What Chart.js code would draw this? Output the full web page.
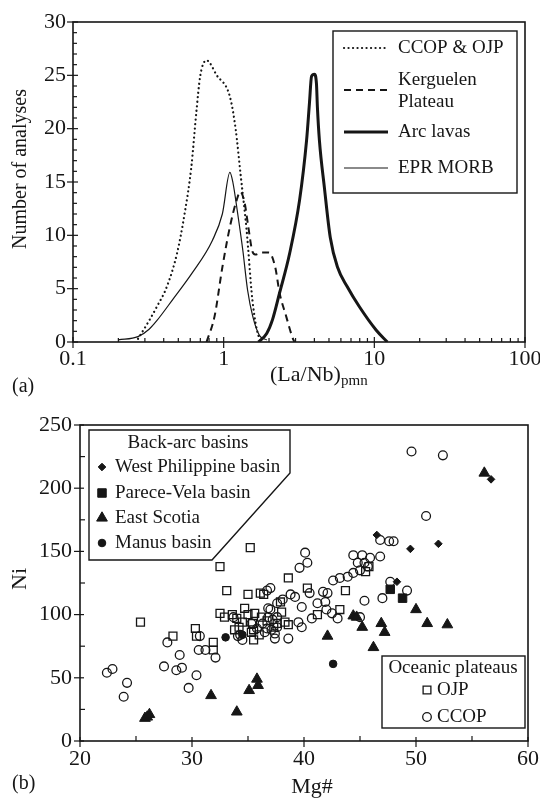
<!DOCTYPE html>
<html>
<head>
<meta charset="utf-8">
<script src="https://cdn.jsdelivr.net/npm/chart.js@4.4.0/dist/chart.umd.min.js"></script>
<style>
  html, body { margin: 0; padding: 0; background: #fff; }
  #wrap { position: relative; width: 540px; height: 800px; }
  canvas { position: absolute; left: 0; }
  #chart-a { top: 0; }
  #chart-b { top: 400px; }
</style>
</head>
<body>
<div id="wrap">
  <canvas id="chart-a" width="540" height="400"></canvas>
  <canvas id="chart-b" width="540" height="400"></canvas>
</div>
<script>
// ---- (a) (La/Nb)pmn distributions ----
const ratioTicks = [0.1, 1, 10, 100];
const countTicks = [0, 5, 10, 15, 20, 25, 30];

const ccopX = [0.27, 0.32, 0.36, 0.42, 0.49, 0.55, 0.61, 0.66, 0.70, 0.77, 0.90, 1.10, 1.20, 1.30, 1.42, 1.55, 1.70, 1.85];
const ccopY = [0.3, 2, 3.3, 5.2, 8.3, 12, 16.4, 21.7, 25, 26.4, 25, 23, 20, 15.5, 10.5, 4, 0.6, 0];

const kergX = [0.77, 0.87, 0.98, 1.10, 1.22, 1.29, 1.38, 1.45, 1.55, 1.62, 1.80, 2.00, 2.20, 2.35, 2.60, 2.85, 2.95];
const kergY = [0, 2.4, 7, 10.8, 13.3, 14.1, 13, 11, 8.5, 8.2, 8.4, 8.4, 7, 4.6, 2.4, 0.5, 0];

const arcX = [1.70, 1.93, 2.11, 2.35, 2.74, 3.19, 3.55, 3.71, 3.83, 4.00, 4.13, 4.19, 4.32, 4.66, 5.10, 5.70, 6.60, 7.96, 10.3, 12.2];
const arcY = [0, 0.8, 2.1, 4.6, 8.3, 13.3, 18.9, 22.4, 24.9, 25.1, 24.2, 22, 18.9, 14.5, 9.8, 7.0, 5.2, 3.3, 1.1, 0];

const eprX = [0.20, 0.27, 0.32, 0.36, 0.46, 0.62, 0.84, 0.98, 1.10, 1.15, 1.24, 1.34, 1.44, 1.56, 1.73, 1.93];
const eprY = [0.2, 0.5, 1.2, 2, 4, 6.5, 9.5, 12, 15.9, 15, 12, 8.6, 4.9, 2.4, 0.6, 0.2];

// ---- (b) Ni vs Mg# ----
const mgTicks = [20, 30, 40, 50, 60];
const niTicks = [0, 50, 100, 150, 200, 250];

const ojpMg = [25.4, 28.3, 30.3, 30.4, 31.9, 31.9, 32.5, 33.1, 32.5, 32.9, 33.6, 34.0, 33.8, 34.2, 34.5, 34.7, 35.0, 35.0, 35.2, 35.6, 35.4, 35.3, 35.5, 35.5, 36.0, 36.1, 36.4, 36.2, 36.7, 37.3, 37.6, 38.0, 37.9, 38.3, 38.6, 38.6, 40.3, 41.2, 43.2, 43.7, 45.5, 45.8];
const ojpNi = [94, 83, 89, 83, 72, 78, 138, 119, 101, 98, 100, 97, 88, 90, 94, 105, 100, 116, 153, 101, 93, 86, 80, 88, 84, 117, 116, 98, 95, 90, 93, 102, 110, 94, 92, 129, 121, 100, 104, 119, 134, 138];

const ccopMg = [22.4, 22.9, 24.2, 23.9, 27.5, 27.8, 28.6, 28.9, 29.1, 29.7, 30.4, 30.7, 30.6, 31.2, 32.1, 33.7, 34.1, 34.5, 34.3, 35.3, 35.8, 36.3, 36.5, 36.7, 36.8, 36.8, 36.7, 37.0, 37.0, 37.1, 37.2, 37.4, 37.4, 37.6, 37.6, 37.6, 38.1, 38.6, 38.8, 39.2, 39.5, 39.6, 39.8, 39.8, 40.1, 40.3, 40.5, 40.7, 41.2, 41.7, 41.9, 42.0, 42.1, 42.5, 42.6, 43.0, 43.2, 43.9, 44.4, 44.4, 44.8, 45.0, 45.0, 45.2, 45.4, 45.4, 45.7, 45.9, 46.8, 46.8, 47.0, 47.6, 48.0, 47.7, 49.2, 50.9, 49.6, 52.4];
const ccopNi = [54, 57, 46, 35, 59, 78, 56, 68, 58, 42, 52, 83, 72, 72, 66, 98, 83, 80, 84, 93, 89, 93, 86, 89, 98, 105, 119, 104, 121, 88, 96, 81, 85, 90, 98, 109, 112, 81, 116, 114, 94, 137, 90, 106, 149, 141, 117, 97, 109, 118, 110, 104, 117, 101, 127, 97, 129, 130, 133, 147, 141, 98, 135, 147, 111, 141, 138, 145, 146, 159, 113, 158, 158, 126, 119, 178, 229, 226];

const wphMg = [46.5, 49.5, 52.0, 48.3, 56.7];
const wphNi = [163, 152, 156, 126, 207];

const pvMg = [47.7, 48.8];
const pvNi = [120, 113];

const scotiaMg = [25.8, 26.0, 26.2, 31.7, 34.0, 35.1, 35.8, 35.9, 42.1, 44.4, 44.7, 45.2, 46.2, 46.9, 47.2, 50.0, 51.0, 52.8, 56.1];
const scotiaNi = [18, 19, 21, 36, 23, 40, 49, 44, 83, 99, 98, 90, 74, 93, 86, 104, 93, 92, 212];

const manusMg = [33.0, 34.5, 42.6];
const manusNi = [82, 84, 61];

// ---------------------------------------------------------------------------
const INK = '#161616';
const SERIF = '"Liberation Serif", "Times New Roman", serif';
Chart.defaults.font.family = SERIF;
Chart.defaults.color = INK;

const pts = (xs, ys) => xs.map((x, i) => ({ x, y: ys[i] }));
const asTicks = arr => s => { s.ticks = arr.map(v => ({ value: v })); };

function seg(ctx, x1, y1, x2, y2) {
  ctx.beginPath(); ctx.moveTo(x1, y1); ctx.lineTo(x2, y2); ctx.stroke();
}

// frame + inward ticks
function framePlugin(cfg) {
  return {
    id: 'frame',
    afterDatasetsDraw(chart) {
      const { ctx, chartArea: a, scales: { x, y } } = chart;
      ctx.save();
      ctx.strokeStyle = INK;
      ctx.lineWidth = 1.2;
      cfg.xMajor.forEach(v => { const p = x.getPixelForValue(v); seg(ctx, p, a.bottom + cfg.out, p, a.bottom - cfg.inn); });
      cfg.xMinor.forEach(v => { const p = x.getPixelForValue(v); seg(ctx, p, a.bottom, p, a.bottom - cfg.minor); });
      cfg.yMajor.forEach(v => { const p = y.getPixelForValue(v); seg(ctx, a.left - cfg.out, p, a.left + cfg.inn, p); });
      cfg.yMinor.forEach(v => { const p = y.getPixelForValue(v); seg(ctx, a.left, p, a.left + cfg.minor, p); });
      ctx.lineWidth = 1.6;
      ctx.strokeRect(a.left, a.top, a.right - a.left, a.bottom - a.top);
      ctx.restore();
    }
  };
}

function textPlugin(items) {
  return {
    id: 'texts',
    afterDraw(chart) {
      const ctx = chart.ctx;
      ctx.save();
      ctx.fillStyle = INK;
      ctx.textBaseline = 'alphabetic';
      items.forEach(t => {
        ctx.save();
        ctx.font = t.size + 'px ' + SERIF;
        ctx.textAlign = t.align || 'left';
        ctx.translate(t.x, t.y);
        if (t.rot) ctx.rotate(t.rot);
        ctx.fillText(t.text, 0, 0);
        ctx.restore();
      });
      ctx.restore();
    }
  };
}

// ---- chart (a) ----
const legendA = {
  id: 'legendA',
  afterDraw(chart) {
    const ctx = chart.ctx;
    ctx.save();
    ctx.fillStyle = '#fff';
    ctx.fillRect(333, 31, 184, 162);
    ctx.strokeStyle = INK; ctx.lineWidth = 1.4;
    ctx.strokeRect(333, 31, 184, 162);
    const rows = [
      { ds: 0, y: 48, lines: ['CCOP & OJP'], ty: [48] },
      { ds: 1, y: 90, lines: ['Kerguelen', 'Plateau'], ty: [80, 102] },
      { ds: 2, y: 132, lines: ['Arc lavas'], ty: [132] },
      { ds: 3, y: 168, lines: ['EPR MORB'], ty: [168] },
    ];
    ctx.font = '19px ' + SERIF;
    ctx.textBaseline = 'middle';
    rows.forEach(r => {
      const d = chart.data.datasets[r.ds];
      ctx.strokeStyle = INK;
      ctx.lineWidth = d.borderWidth;
      ctx.lineCap = d.borderCapStyle || 'butt';
      ctx.setLineDash(d.borderDash || []);
      seg(ctx, 344, r.y, 388, r.y);
      ctx.setLineDash([]);
      ctx.fillStyle = INK;
      r.lines.forEach((s, i) => ctx.fillText(s, 398, r.ty[i]));
    });
    ctx.restore();
  }
};

const lineDs = (label, xs, ys, extra) => Object.assign({
  label, data: pts(xs, ys), showLine: true, borderColor: INK, backgroundColor: INK,
  pointRadius: 0, pointHoverRadius: 0, cubicInterpolationMode: 'monotone', fill: false,
}, extra);

const oneToThirty = Array.from({ length: 31 }, (_, i) => i);

new Chart(document.getElementById('chart-a'), {
  type: 'scatter',
  data: {
    datasets: [
      lineDs('CCOP & OJP', ccopX, ccopY, { borderWidth: 2.2, borderDash: [0.1, 4.4], borderCapStyle: 'round' }),
      lineDs('Kerguelen Plateau', kergX, kergY, { borderWidth: 2, borderDash: [7, 5] }),
      lineDs('Arc lavas', arcX, arcY, { borderWidth: 3 }),
      lineDs('EPR MORB', eprX, eprY, { borderWidth: 1.2 }),
    ]
  },
  options: {
    responsive: false, animation: false, devicePixelRatio: 1,
    layout: { padding: { top: 22, right: 15, left: 0, bottom: 0 } },
    plugins: { legend: { display: false }, tooltip: { enabled: false } },
    scales: {
      x: {
        type: 'logarithmic', min: 0.1, max: 100,
        grid: { display: false, drawTicks: false }, border: { display: false },
        afterBuildTicks: asTicks(ratioTicks),
        afterFit: s => { s.height = 58; s.paddingLeft = 0; s.paddingRight = 0; },
        ticks: { color: INK, font: { size: 22, lineHeight: 1 }, padding: 6, maxRotation: 0, autoSkip: false, callback: v => String(v) },
      },
      y: {
        min: 0, max: 30,
        grid: { display: false, drawTicks: false }, border: { display: false },
        afterBuildTicks: asTicks(countTicks),
        afterFit: s => { s.width = 73; s.paddingTop = 0; s.paddingBottom = 0; },
        ticks: { color: INK, font: { size: 22, lineHeight: 1 }, padding: 7 },
      },
    },
  },
  plugins: [
    framePlugin({
      xMajor: ratioTicks, xMinor: [0.2, 0.3, 0.4, 0.5, 0.6, 0.7, 0.8, 0.9, 2, 3, 4, 5, 6, 7, 8, 9, 20, 30, 40, 50, 60, 70, 80, 90],
      yMajor: countTicks, yMinor: oneToThirty.filter(v => v % 5),
      out: 6, inn: 5, minor: 4,
    }),
    legendA,
    textPlugin([
      { text: '(a)', x: 12, y: 392, size: 20 },
      { text: '(La/Nb)', x: 270, y: 381, size: 22 },
      { text: 'pmn', x: 341, y: 385, size: 15 },
      { text: 'Number of analyses', x: 26, y: 169, size: 20, align: 'center', rot: -Math.PI / 2 },
    ]),
  ],
});

// ---- chart (b) ----
function marker(ctx, style, r, x, y, filled) {
  ctx.fillStyle = filled ? INK : '#fff';
  ctx.strokeStyle = INK;
  ctx.lineWidth = filled ? 1 : 1.3;
  Chart.helpers.drawPoint(ctx, { pointStyle: style, radius: r, rotation: 0, borderWidth: ctx.lineWidth }, x, y);
}

const legendB = {
  id: 'legendB',
  afterDraw(chart) {
    const ctx = chart.ctx;
    ctx.save();
    // back-arc box with cut corner
    ctx.beginPath();
    ctx.moveTo(89, 30); ctx.lineTo(290, 30); ctx.lineTo(290, 73); ctx.lineTo(212, 160); ctx.lineTo(89, 160); ctx.closePath();
    ctx.fillStyle = '#fff'; ctx.fill();
    ctx.strokeStyle = INK; ctx.lineWidth = 1.4; ctx.stroke();
    ctx.font = '19px ' + SERIF;
    ctx.textBaseline = 'middle';
    ctx.fillStyle = INK;
    ctx.textAlign = 'center';
    ctx.fillText('Back-arc basins', 188, 43);
    ctx.textAlign = 'left';
    const rowsB = [
      { s: 'rectRot', r: 3.8, y: 67, t: 'West Philippine basin' },
      { s: 'rect', r: 6, y: 93, t: 'Parece-Vela basin' },
      { s: 'triangle', r: 6.2, y: 118, t: 'East Scotia' },
      { s: 'circle', r: 3.8, y: 143, t: 'Manus basin' },
    ];
    rowsB.forEach(r => {
      marker(ctx, r.s, r.r, 102, r.y, true);
      ctx.fillStyle = INK;
      ctx.fillText(r.t, 115, r.y);
    });
    // oceanic plateaus box
    ctx.fillStyle = '#fff';
    ctx.fillRect(382, 256, 143, 72);
    ctx.strokeStyle = INK; ctx.lineWidth = 1.4;
    ctx.strokeRect(382, 256, 143, 72);
    ctx.fillStyle = INK;
    ctx.textAlign = 'center';
    ctx.fillText('Oceanic plateaus', 453, 268);
    ctx.textAlign = 'left';
    marker(ctx, 'rect', 5.5, 427, 290, false);
    ctx.fillStyle = INK; ctx.fillText('OJP', 437, 290);
    marker(ctx, 'circle', 4.3, 427, 317, false);
    ctx.fillStyle = INK; ctx.fillText('CCOP', 437, 317);
    ctx.restore();
  }
};

const dotDs = (label, xs, ys, style, r, filled) => ({
  label, data: pts(xs, ys), pointStyle: style, pointRadius: r, pointHoverRadius: r,
  backgroundColor: filled ? INK : 'rgba(255,255,255,0)', borderColor: INK, borderWidth: filled ? 1 : 1.3,
});

new Chart(document.getElementById('chart-b'), {
  type: 'scatter',
  data: {
    datasets: [
      dotDs('West Philippine basin', wphMg, wphNi, 'rectRot', 3.8, true),
      dotDs('Parece-Vela basin', pvMg, pvNi, 'rect', 6, true),
      dotDs('East Scotia', scotiaMg, scotiaNi, 'triangle', 6.2, true),
      dotDs('Manus basin', manusMg, manusNi, 'circle', 3.8, true),
      dotDs('OJP', ojpMg, ojpNi, 'rect', 5.6, false),
      dotDs('CCOP', ccopMg, ccopNi, 'circle', 4.4, false),
    ]
  },
  options: {
    responsive: false, animation: false, devicePixelRatio: 1,
    layout: { padding: { top: 25, right: 12, left: 0, bottom: 0 } },
    plugins: { legend: { display: false }, tooltip: { enabled: false } },
    scales: {
      x: {
        min: 20, max: 60,
        grid: { display: false, drawTicks: false }, border: { display: false },
        afterBuildTicks: asTicks(mgTicks),
        afterFit: s => { s.height = 59; s.paddingLeft = 0; s.paddingRight = 0; },
        ticks: { color: INK, font: { size: 22, lineHeight: 1 }, padding: 7, maxRotation: 0, autoSkip: false },
      },
      y: {
        min: 0, max: 250,
        grid: { display: false, drawTicks: false }, border: { display: false },
        afterBuildTicks: asTicks(niTicks),
        afterFit: s => { s.width = 80; s.paddingTop = 0; s.paddingBottom = 0; },
        ticks: { color: INK, font: { size: 22, lineHeight: 1 }, padding: 8 },
      },
    },
  },
  plugins: [
    framePlugin({
      xMajor: mgTicks, xMinor: [25, 35, 45, 55],
      yMajor: niTicks, yMinor: [25, 75, 125, 175, 225],
      out: 6, inn: 4, minor: 5,
    }),
    legendB,
    textPlugin([
      { text: '(b)', x: 12, y: 389, size: 20 },
      { text: 'Mg#', x: 312, y: 393, size: 22, align: 'center' },
      { text: 'Ni', x: 26, y: 179, size: 22, align: 'center', rot: -Math.PI / 2 },
    ]),
  ],
});
</script>
</body>
</html>
